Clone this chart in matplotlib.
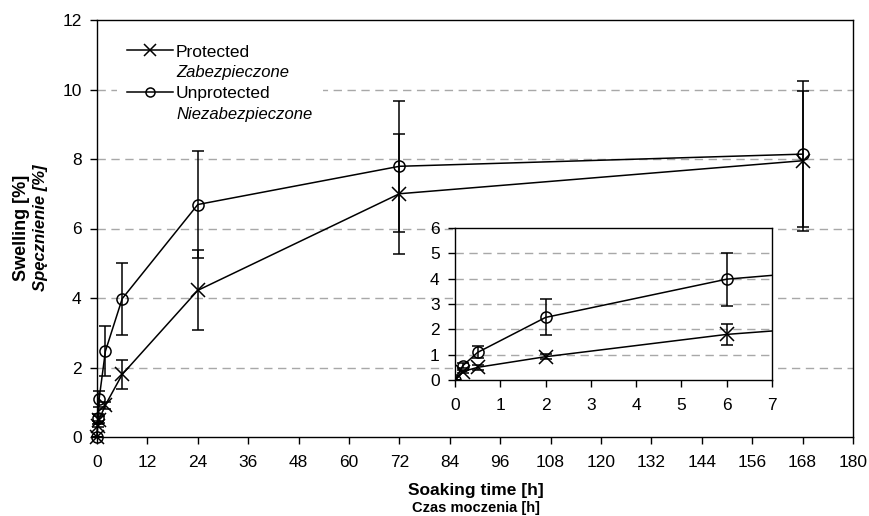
import matplotlib.pyplot as plt
from matplotlib.lines import Line2D

plt.rcParams['font.family'] = ['Liberation Sans', 'DejaVu Sans']

# soaking time [h]
time_h = [0, 0.17, 0.5, 2, 6, 24, 72, 168]
# swelling [%]
protected = [0, 0.33, 0.5, 0.92, 1.8, 4.22, 7.0, 7.95]
protected_err = [0, 0.05, 0.1, 0.1, 0.43, 1.15, 1.73, 2.02]
unprotected = [0, 0.56, 1.09, 2.47, 3.98, 6.69, 7.79, 8.14]
unprotected_err = [0, 0.1, 0.24, 0.71, 1.04, 1.55, 1.88, 2.1]

main_xticks = list(range(0, 181, 12))
main_yticks = list(range(0, 13, 2))
inset_xticks = list(range(0, 8))
inset_yticks = list(range(0, 7))

W, H = 869, 516
fig = plt.figure(figsize=(W / 100, H / 100), dpi=100)
ax = fig.add_axes([97 / W, 1 - 437 / H, (853 - 97) / W, (437 - 20) / H])


def draw(a, clip):
    a.errorbar(time_h, protected, yerr=protected_err, color='black', lw=1.1,
               marker='x', ms=10, mew=1.1, capsize=4.5, capthick=1.1,
               elinewidth=1.1, zorder=3, clip_on=clip)
    a.errorbar(time_h, unprotected, yerr=unprotected_err, color='black', lw=1.1,
               marker='o', ms=8, mfc='none', mew=1.1, capsize=4.5,
               capthick=1.1, elinewidth=1.1, zorder=3, clip_on=clip)


def style(a, xt, yt):
    a.set_xticks(xt)
    a.set_yticks(yt)
    a.tick_params(direction='out', length=5, width=1, labelsize=12.5,
                  color='black')
    a.tick_params(axis='x', pad=8)
    a.tick_params(axis='y', pad=6)
    for s in a.spines.values():
        s.set_linewidth(1)
        s.set_color('black')
    for v in yt[1:-1]:
        a.axhline(v, color='#a8a8a8', lw=1, ls=(0, (6, 4)), zorder=1)


draw(ax, False)
ax.set_xlim(0, 180)
ax.set_ylim(0, 12)
style(ax, main_xticks, main_yticks)

# legend (white box hides the grid behind it)
h1 = Line2D([], [], color='black', lw=1.1, marker='x', ms=9, mew=1.1)
h2 = Line2D([], [], color='black', lw=1.1, marker='o', ms=6.5, mfc='none', mew=1.1)
blank = Line2D([], [], lw=0, alpha=0)
leg = ax.legend([h1, blank, h2, blank],
                ['Protected', 'Zabezpieczone', 'Unprotected', 'Niezabezpieczone'],
                loc='upper left', bbox_to_anchor=((117 - 97) / 756, (437 - 34) / 417),
                frameon=True, facecolor='white', edgecolor='none', framealpha=1,
                fancybox=False, borderpad=0.6, borderaxespad=0, fontsize=12.5,
                handlelength=2.6, handletextpad=0.2, labelspacing=0.33)
for i in (1, 3):
    leg.get_texts()[i].set_style('italic')
    leg.get_texts()[i].set_fontsize(12)

# inset
ins = fig.add_axes([455 / W, 1 - 380 / H, (772 - 455) / W, (380 - 228) / H])
ins.set_facecolor('white')
draw(ins, True)
ins.set_xlim(0, 7)
ins.set_ylim(0, 6)
style(ins, inset_xticks, inset_yticks)

# axis titles
fig.text(476 / W, 1 - 491 / H, 'Soaking time [h]', ha='center', va='center',
         fontsize=12.5, fontweight='bold')
fig.text(476 / W, 1 - 508 / H, 'Czas moczenia [h]', ha='center', va='center',
         fontsize=10.5, fontweight='bold')
fig.text(22 / W, 1 - 228 / H, 'Swelling [%]', ha='center', va='center',
         rotation=90, fontsize=13, fontweight='bold')
fig.text(40 / W, 1 - 228 / H, 'Spęcznienie [%]', ha='center', va='center',
         rotation=90, fontsize=12, fontweight='bold', style='italic')

fig.savefig('out.png', dpi=100)
